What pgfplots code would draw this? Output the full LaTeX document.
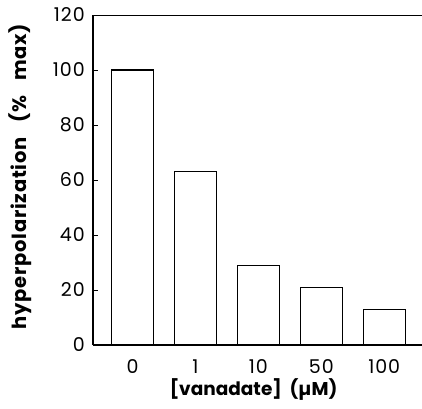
\documentclass[border=0pt]{standalone}
\usepackage{pgfplots}
\pgfplotsset{compat=1.18}
\usetikzlibrary{calc}
\usepackage{fontspec}
\setmainfont{Poppins}
\begin{document}
\begin{tikzpicture}
\begin{axis}[
  name=ax,
  scale only axis,
  width=329pt, height=330pt,
  xmin=-0.63, xmax=4.6,
  ymin=0, ymax=120,
  axis x line=bottom, axis y line=left,
  axis line style={-, line width=1.4pt},
  xtick=data,
  xticklabels={0,1,10,50,100},
  ytick={0,20,...,120},
  major x tick style={draw=none},
  major y tick style={line width=1pt, black},
  tick align=inside,
  major tick length=5pt,
  /pgf/number format/assume math mode=true,
  every tick label/.append style={font=\fontsize{19}{19}\selectfont\addfontfeature{LetterSpace=5}, inner sep=0pt},
  xticklabel style={anchor=center, yshift=-17pt},
  yticklabel style={anchor=east, xshift=-8pt},
  ybar, bar width=0.67,
  xlabel={\bfseries [vanadate]\ \ (µM)},
  ylabel={\bfseries\addfontfeature{LetterSpace=4}hyperpolarization\ \ \ (\%\ \ \ max)},
  xlabel style={font=\fontsize{18.5}{18.5}\selectfont, at={(rel axis cs:0.488,0)}, anchor=center, yshift=-45pt},
  ylabel style={font=\fontsize{19.5}{19.5}\selectfont, at={(rel axis cs:0,0.51)}, anchor=center, yshift=73pt},
]
\addplot[draw=black, fill=white, line width=1.1pt] coordinates {(0,100) (1,63) (2,29) (3,21) (4,13)};
\draw[line width=1.4pt] (rel axis cs:0,1) -- (rel axis cs:1,1);
\end{axis}
\pgfresetboundingbox
\path (ax.south west) ++(-93pt,-63pt) rectangle ($(ax.north east)+(0pt,15pt)$);
\end{tikzpicture}
\end{document}
